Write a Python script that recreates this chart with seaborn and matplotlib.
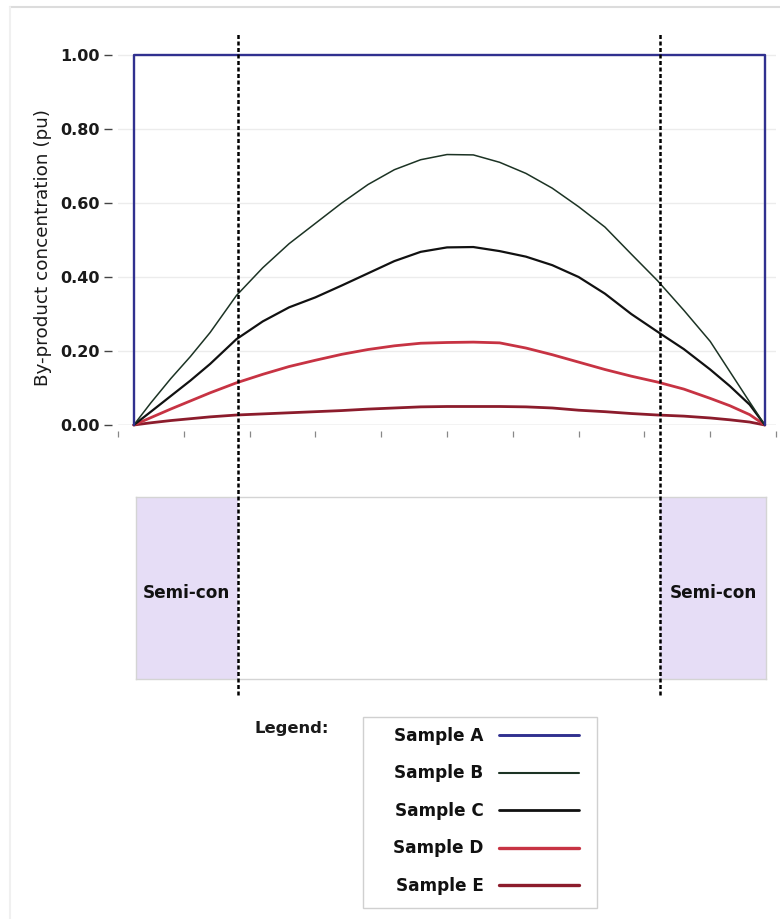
import numpy as np
import pandas as pd
import matplotlib
matplotlib.use("Agg")
import matplotlib.pyplot as plt
from matplotlib.lines import Line2D
from matplotlib.patches import Rectangle
import seaborn as sns

# Radial position across the insulation (axis units, ticks at 0..10)
position = [0.24, 0.5, 0.8, 1.1, 1.4, 1.8, 2.2, 2.6, 3.0, 3.4, 3.8, 4.2, 4.6, 5.0,
            5.4, 5.8, 6.2, 6.6, 7.0, 7.4, 7.8, 8.2, 8.6, 9.0, 9.3, 9.6, 9.83]

# By-product concentration profiles (pu)
sample_b = [0.0, 0.06, 0.125, 0.185, 0.25, 0.35, 0.425, 0.49, 0.545, 0.60, 0.65,
            0.69, 0.717, 0.731, 0.73, 0.71, 0.68, 0.64, 0.59, 0.535, 0.462, 0.39,
            0.31, 0.226, 0.144, 0.062, 0.0]
sample_c = [0.0, 0.036, 0.078, 0.12, 0.165, 0.232, 0.28, 0.318, 0.345, 0.377, 0.41,
            0.443, 0.468, 0.48, 0.481, 0.47, 0.455, 0.432, 0.40, 0.355, 0.30, 0.252,
            0.205, 0.15, 0.105, 0.055, 0.0]
sample_d = [0.0, 0.02, 0.043, 0.065, 0.087, 0.114, 0.137, 0.158, 0.175, 0.191, 0.204,
            0.214, 0.221, 0.223, 0.224, 0.222, 0.208, 0.19, 0.17, 0.15, 0.132, 0.116,
            0.097, 0.072, 0.052, 0.028, 0.0]
sample_e = [0.0, 0.006, 0.012, 0.017, 0.022, 0.027, 0.030, 0.033, 0.036, 0.039, 0.043,
            0.046, 0.049, 0.05, 0.05, 0.05, 0.049, 0.046, 0.04, 0.036, 0.031, 0.027,
            0.024, 0.019, 0.014, 0.008, 0.0]

# Sample A: uniform concentration across the whole insulation
sample_a_pos = [0.24, 0.24, 9.83, 9.83]
sample_a = [0.0, 1.0, 1.0, 0.0]

# Semi-conducting layer boundaries
semicon_inner = 1.82
semicon_outer = 8.24
semicon_start = 0.274
semicon_end = 9.848

series_names = ["Sample A", "Sample B", "Sample C", "Sample D", "Sample E"]
y_ticks = [0.0, 0.2, 0.4, 0.6, 0.8, 1.0]
y_tick_labels = ["0.00", "0.20", "0.40", "0.60", "0.80", "1.00"]

colors = {"Sample A": "#30308f", "Sample B": "#1c3324", "Sample C": "#111111",
          "Sample D": "#c73343", "Sample E": "#8c1c2c"}
widths = {"Sample A": 1.7, "Sample B": 1.1, "Sample C": 1.6,
          "Sample D": 2.0, "Sample E": 2.0}

sns.set_theme(style="white")
plt.rcParams["font.family"] = ["DejaVu Sans"]

W, H = 780, 919
fig = plt.figure(figsize=(W / 100, H / 100), dpi=100)


def fx(px):
    return px / W


def fy(py):
    return 1 - py / H


# Main profile axes
ax = fig.add_axes([fx(118), fy(425), 658 / W, 395 / H])
ax.set_zorder(3)
ax.patch.set_visible(False)

frames = {
    "Sample A": pd.DataFrame({"pos": sample_a_pos, "conc": sample_a}),
    "Sample B": pd.DataFrame({"pos": position, "conc": sample_b}),
    "Sample C": pd.DataFrame({"pos": position, "conc": sample_c}),
    "Sample D": pd.DataFrame({"pos": position, "conc": sample_d}),
    "Sample E": pd.DataFrame({"pos": position, "conc": sample_e}),
}
for name in series_names[::-1]:
    sns.lineplot(data=frames[name], x="pos", y="conc", ax=ax, color=colors[name],
                 lw=widths[name], estimator=None, sort=False, legend=False)
for ln in ax.lines:
    ln.set_clip_on(False)
    ln.set_zorder(4)

# Spine placement first (it resets tick label styling)
for s in ("top", "right", "left", "bottom"):
    ax.spines[s].set_visible(False)
ax.spines["left"].set_position(("outward", 4))
ax.spines["bottom"].set_position(("outward", 4.5))

ax.set_xlim(0, 10)
ax.set_ylim(0, 1.0676)
ax.set_xticks(range(11))
ax.set_xticklabels([])
ax.set_yticks(y_ticks, y_tick_labels, fontweight="bold", fontsize=11.5,
              color="#1a1a1a")
ax.set_xlabel("")
ax.set_ylabel("")
ax.yaxis.grid(True, color="#ececec", lw=1)
ax.xaxis.grid(False)
ax.axhline(0, color="#d4d4d4", lw=1, zorder=1)
ax.tick_params(axis="y", left=True, length=5.5, width=1, color="#444444", pad=3.5)
ax.tick_params(axis="x", bottom=True, length=4.5, width=0.9, color="#888888",
               direction="out")

# Semi-con boundary markers spanning both panels
for xb in (semicon_inner, semicon_outer):
    ax.plot([xb, xb], [-0.73, 1.062], color="black", lw=1.8,
            ls=(0, (1.6, 1.0)), clip_on=False, zorder=6)

fig.text(fx(43), fy(247), "By-product concentration (pu)", rotation=90,
         ha="center", va="center", fontsize=13.2, color="#1a1a1a")

# Cable cross-section band
ax2 = fig.add_axes([fx(136), fy(679), 630 / W, 182 / H])
ax2.set_xlim(semicon_start, semicon_end)
ax2.set_ylim(0, 1)
ax2.axvspan(semicon_start, semicon_inner, color="#e6ddf6", lw=0)
ax2.axvspan(semicon_outer, semicon_end, color="#e6ddf6", lw=0)
for xc in ((semicon_start + semicon_inner) / 2, (semicon_outer + semicon_end) / 2):
    ax2.text(xc, 0.475, "Semi-con", ha="center", va="center", fontsize=12.2,
             fontweight="bold", color="#111111")
ax2.set_xticks([])
ax2.set_yticks([])
for s in ax2.spines.values():
    s.set_color("#d4d4d4")
    s.set_linewidth(1)

# Legend
handles = [Line2D([], [], color=colors[n], lw=widths[n] + 0.4) for n in series_names]
fig.text(fx(255), fy(728), "Legend:", fontsize=11.8, fontweight="bold",
         ha="left", va="center", color="#1a1a1a")
fig.add_artist(Rectangle((fx(363), fy(908)), 234 / W, 191 / H,
                         transform=fig.transFigure, facecolor="white",
                         edgecolor="#d0d0d0", lw=1))
leg = fig.legend(handles, series_names, loc="upper left",
                 bbox_to_anchor=(fx(393), fy(727)), markerfirst=False,
                 frameon=False, handlelength=4.7, labelspacing=1.15,
                 borderpad=0, handletextpad=0.95, borderaxespad=0,
                 prop={"weight": "bold", "size": 12.2})
for t in leg.get_texts():
    t.set_color("#111111")

# Faint page frame
fig.add_artist(Line2D([fx(10), 1], [fy(7), fy(7)], color="#dcdcdc", lw=1.5))
fig.add_artist(Line2D([fx(10), fx(10)], [fy(7), 0], color="#f0f0f0", lw=1.5))

fig.savefig("out.png", dpi=100)
